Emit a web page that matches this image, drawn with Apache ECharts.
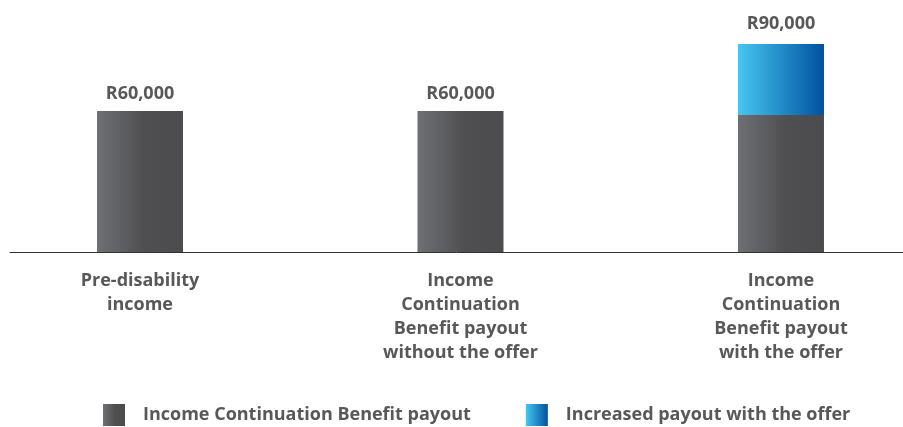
<!DOCTYPE html>
<html>
<head>
<meta charset="utf-8">
<script src="https://cdn.jsdelivr.net/npm/echarts@6/dist/echarts.min.js"></script>
<style>
html,body{margin:0;padding:0;background:#fff;}
#c{width:903px;height:427px;}
</style>
</head>
<body>
<div id="c"></div>
<script>
const categories = [
  'Pre-disability\nincome',
  'Income\nContinuation\nBenefit payout\nwithout the offer',
  'Income\nContinuation\nBenefit payout\nwith the offer'
];
const basePayout = [60000, 60000, 58300];
const increasedPayout = [null, null, 30200];
const totalLabels = ['R60,000', 'R60,000', 'R90,000'];
const seriesNames = ['Income Continuation Benefit payout', 'Increased payout with the offer'];

const textColor = '#58585a';
const font = '"Open Sans", "Noto Sans", sans-serif';
const fs = 18;
const labelDistance = [8, 8, 11];

const greyGrad = new echarts.graphic.LinearGradient(0, 0, 1, 0, [
  {offset: 0, color: '#6f7074'},
  {offset: 0.55, color: '#4f4f51'},
  {offset: 1, color: '#4c4c4e'}
]);
const blueGrad = new echarts.graphic.LinearGradient(0, 0, 1, 0, [
  {offset: 0, color: '#46c6f0'},
  {offset: 1, color: '#0052a0'}
]);

const valueLabel = (show, idx) => ({
  show: show,
  position: 'top',
  distance: labelDistance[idx],
  color: textColor,
  fontFamily: font,
  fontWeight: 'bold',
  fontSize: fs,
  formatter: () => totalLabels[idx]
});

// data items: [value, position index]; encode maps y <- column 0, x <- column 1
const baseData = basePayout.map((v, i) => ({
  value: [v, i], label: valueLabel(increasedPayout[i] == null, i)
}));
const incData = increasedPayout.map((v, i) => ({
  value: [v == null ? '-' : v, i], label: valueLabel(v != null, i)
}));

const chart = echarts.init(document.getElementById('c'), null, {renderer: 'canvas'});
chart.setOption({
  animation: false,
  textStyle: {fontFamily: font},
  grid: {left: 10, right: 0, top: 17, bottom: 175, containLabel: false},
  xAxis: {
    type: 'value', min: -0.4056, max: 2.3807,
    axisLine: {show: true, onZero: false, lineStyle: {color: '#333333', width: 1}},
    axisTick: {show: false},
    splitLine: {show: false},
    axisLabel: {
      customValues: [0, 1, 2],
      formatter: (v) => categories[Math.round(v)],
      color: textColor, fontFamily: font, fontWeight: 'bold', fontSize: fs,
      lineHeight: 24, margin: 17, align: 'center'
    }
  },
  yAxis: {type: 'value', min: 0, max: 100000, show: false, splitLine: {show: false}},
  legend: {
    left: 98, top: 399,
    itemWidth: 22, itemHeight: 22, itemGap: 55,
    icon: 'rect',
    textStyle: {color: textColor, fontFamily: font, fontWeight: 'bold', fontSize: fs, padding: [0, 0, 0, 13]},
    data: seriesNames
  },
  series: [
    {
      name: seriesNames[0], type: 'bar', stack: 'total', barWidth: 86,
      encode: {x: 1, y: 0},
      itemStyle: {color: greyGrad},
      data: baseData
    },
    {
      name: seriesNames[1], type: 'bar', stack: 'total', barWidth: 86,
      encode: {x: 1, y: 0},
      itemStyle: {color: blueGrad},
      data: incData
    }
  ]
});
</script>
</body>
</html>
